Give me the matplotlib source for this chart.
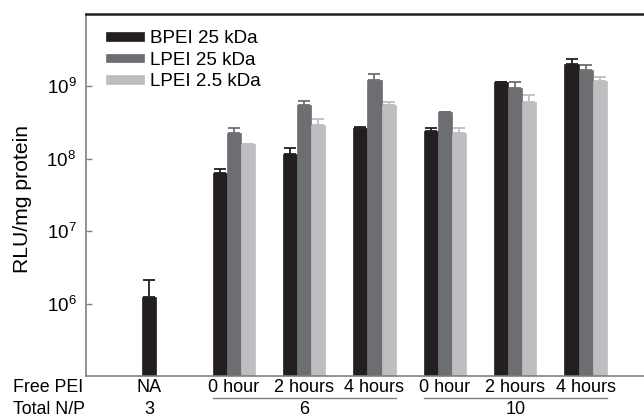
import matplotlib
matplotlib.use("Agg")
import matplotlib.pyplot as plt
import numpy as np
from matplotlib.transforms import blended_transform_factory

plt.rcParams['font.family'] = ['Liberation Sans', 'DejaVu Sans']
plt.rcParams['mathtext.fontset'] = 'custom'
plt.rcParams['mathtext.rm'] = 'Liberation Sans'

series = ["BPEI 25 kDa", "LPEI 25 kDa", "LPEI 2.5 kDa"]
free_pei = ["NA", "0 hour", "2 hours", "4 hours", "0 hour", "2 hours", "4 hours"]
total_np = ["3", "6", "10"]

# values per group (None = no bar)
bpei = [1.25e6, 6.3e7, 1.17e8, 2.7e8, 2.4e8, 1.14e9, 2.04e9]
bpei_err = [0.85e6, 1.0e7, 2.3e7, 0.05e8, 0.3e8, 0.0, 0.36e9]
lpei25 = [None, 2.3e8, 5.6e8, 1.21e9, 4.5e8, 9.5e8, 1.7e9]
lpei25_err = [None, 0.35e8, 0.6e8, 0.29e9, 0.0, 0.21e9, 0.27e9]
lpei25s = [None, 1.6e8, 2.9e8, 5.6e8, 2.24e8, 6.1e8, 1.18e9]
lpei25s_err = [None, 0.0, 0.6e8, 0.5e8, 0.46e8, 1.6e8, 0.17e9]

colors = ["#231f20", "#6d6e71", "#bcbec0"]

W, H = 644, 417
fig = plt.figure(figsize=(W / 100, H / 100), dpi=100)
ax = fig.add_axes([86 / W, 1 - 376 / H, 1 - 86 / W, (376 - 14) / H])

bw = 0.2
x = np.arange(len(free_pei))
all_vals = [bpei, lpei25, lpei25s]
all_errs = [bpei_err, lpei25_err, lpei25s_err]
for i, (vals, errs) in enumerate(zip(all_vals, all_errs)):
    xs = [xi + (i - 1) * bw for xi, v in zip(x, vals) if v is not None]
    vs = [v for v in vals if v is not None]
    es = [e for v, e in zip(vals, errs) if v is not None]
    ax.bar(xs, vs, width=bw, color=colors[i], label=series[i], zorder=2,
           edgecolor=colors[i], linewidth=0.5)
    ax.errorbar(xs, vs, yerr=[np.zeros(len(es)), es], fmt='none',
                ecolor=colors[i], elinewidth=1.3, capsize=4.3, capthick=1.3, zorder=3)

ax.set_yscale('log')
ax.set_ylim(1e5, 1e10)
ax.set_xlim(-1.1, 6.83)
ax.set_yticks([1e6, 1e7, 1e8, 1e9])
ax.yaxis.set_minor_locator(matplotlib.ticker.NullLocator())
ax.set_xticks([])
ax.tick_params(axis='y', direction='in', length=4, width=1, color='#808080',
               labelsize=13.5, pad=7)

ax.spines['right'].set_visible(False)
ax.spines['left'].set_color('#808080')
ax.spines['left'].set_linewidth(1.2)
ax.spines['bottom'].set_color('#808080')
ax.spines['bottom'].set_linewidth(1.2)
ax.spines['top'].set_color('#231f20')
ax.spines['top'].set_linewidth(1.8)

ax.set_ylabel("RLU/mg protein", fontsize=15.2)
ax.yaxis.set_label_coords((32 - 86) / (W - 86), 0.49)

leg = ax.legend(loc='upper left', bbox_to_anchor=(106 / W, 1 - 30 / H),
                bbox_transform=fig.transFigure, frameon=False,
                fontsize=13.5, handlelength=2.0, handleheight=0.32,
                labelspacing=0.25, handletextpad=0.37, borderaxespad=0,
                borderpad=0)

# bottom labels
fs = 13
tr = blended_transform_factory(ax.transData, fig.transFigure)
y1 = 1 - 388 / H
y2 = 1 - 409 / H
fig.text(13 / W, y1, "Free PEI", fontsize=12.8, ha='left', va='center')
fig.text(13 / W, y2, "Total N/P", fontsize=12.8, ha='left', va='center')
ax.text(0 - bw, y1, free_pei[0], transform=tr, fontsize=fs, ha='center', va='center')
ax.text(0 - bw, y2, total_np[0], transform=tr, fontsize=fs, ha='center', va='center')
for xi in range(1, 7):
    ax.text(xi, y1, free_pei[xi], transform=tr, fontsize=fs, ha='center', va='center')
ax.text(2, y2, total_np[1], transform=tr, fontsize=fs, ha='center', va='center')
ax.text(5, y2, total_np[2], transform=tr, fontsize=fs, ha='center', va='center')
yl = 1 - 398 / H
for a, b in [(0.7, 3.3), (3.7, 6.3)]:
    ax.plot([a, b], [yl, yl], transform=tr, color='#808080', lw=1.0, clip_on=False)

fig.savefig("out.png", dpi=100)
